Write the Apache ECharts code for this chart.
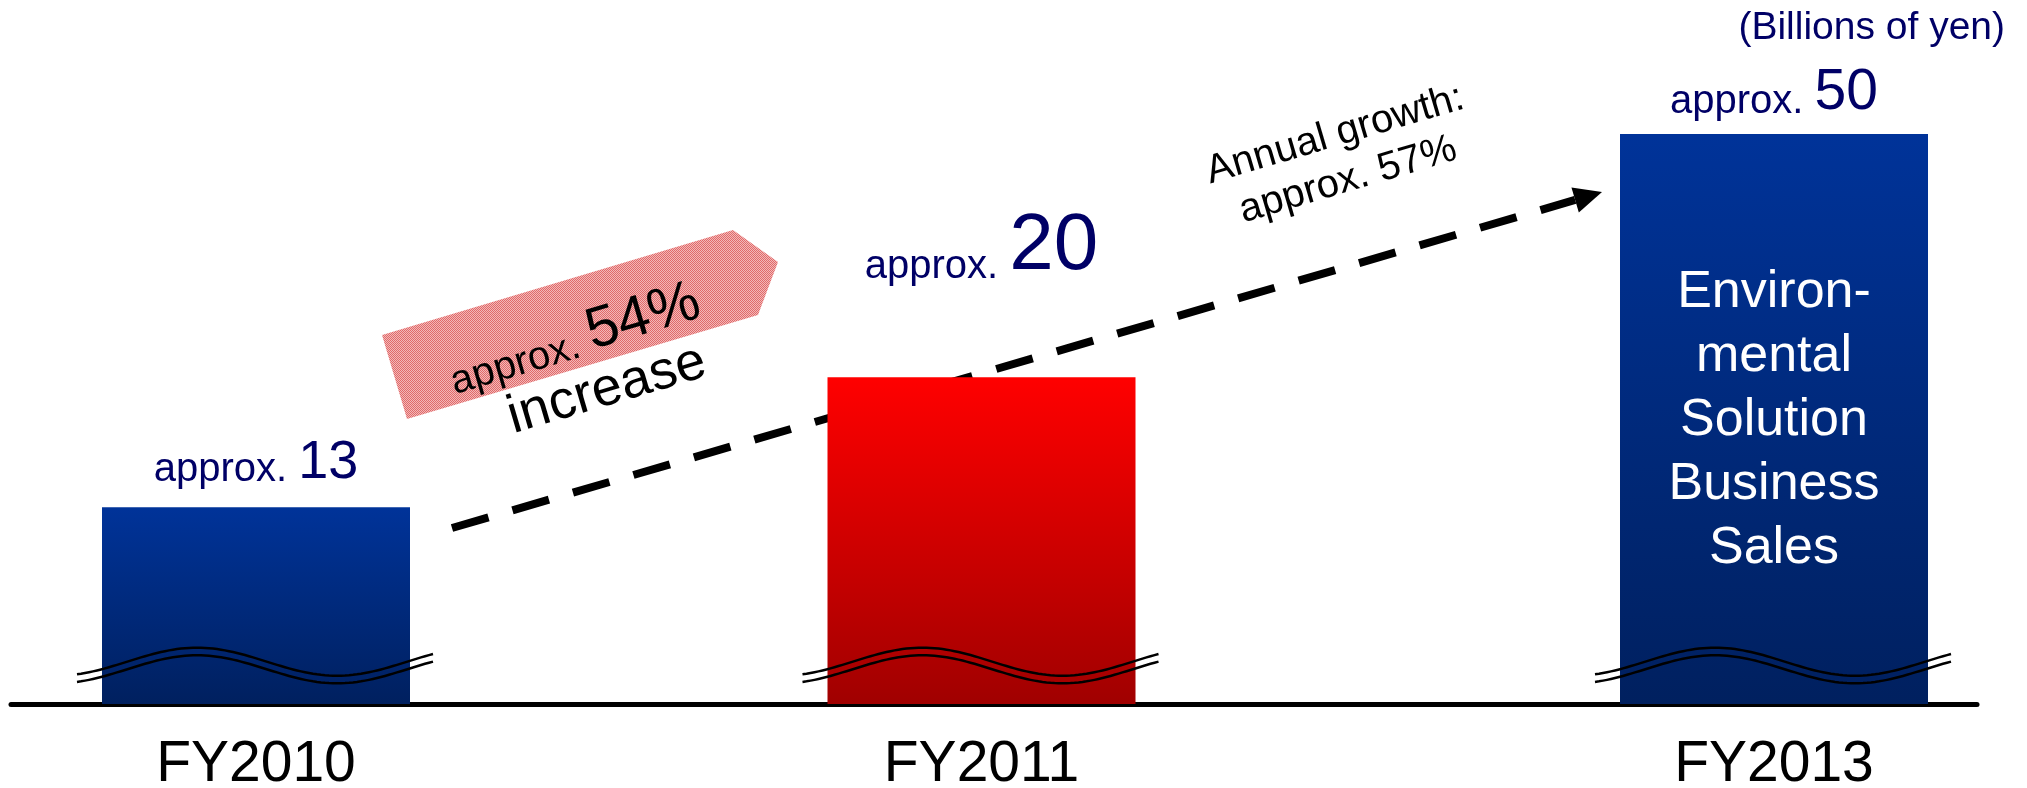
<!DOCTYPE html>
<html><head><meta charset="utf-8">
<script src="https://cdn.jsdelivr.net/npm/echarts@6/dist/echarts.min.js"></script>
<style>html,body{margin:0;padding:0;background:#fff;overflow:hidden}#c{width:2027px;height:788px}</style>
</head><body><div id="c"></div>
<script>
// ---- data ----
const categories = ['FY2010', 'FY2011', 'FY2013'];
const sales = [13, 20, 50];
const valuePrefix = 'approx.';
const unitLabel = '(Billions of yen)';
const barNote = 'Environ-\nmental\nSolution\nBusiness\nSales';
const increaseNote = ['approx.', '54%', 'increase'];
const growthNote = ['Annual growth:', 'approx. 57%'];
// axis breaks (broken value axis)
const axisBreaks = [{start: 0, end: 6, gap: '11.75%'}, {start: 25, end: 42, gap: '0.35%'}];

// ---- style / layout ----
const FONT = '"Liberation Sans", Arial, Helvetica, sans-serif';
const NAVY = '#000066';
const gridBoxes = [{left: 11, width: 490}, {left: 392, width: 1179}, {left: 1571, width: 406}];
const numSizes = [54, 80, 57];
const labelGaps = [17, 90, 12];
const barColors = [
  ['#003399', '#00205f'],
  ['#ff0000', '#a00000'],
  ['#003399', '#00205f']
];

const chart = echarts.init(document.getElementById('c'), null, {renderer: 'canvas'});

const option = {
  animation: false,
  backgroundColor: '#ffffff',
  grid: gridBoxes.map(g => ({left: g.left, width: g.width, top: 134, bottom: 84, outerBoundsMode: 'none', containLabel: false})),
  xAxis: categories.map((c, i) => ({
    type: 'category', gridIndex: i, data: [c],
    axisLine: {show: true, lineStyle: {color: '#000', width: 5}},
    axisTick: {show: false},
    splitLine: {show: false},
    axisLabel: {fontSize: 57, color: '#000', fontFamily: FONT, margin: 33}
  })),
  yAxis: categories.map((c, i) => ({
    type: 'value', gridIndex: i, min: 0, max: 50,
    breaks: axisBreaks.map(b => Object.assign({}, b)),
    breakArea: {show: false},
    axisLine: {show: false}, axisTick: {show: false},
    axisLabel: {show: false}, splitLine: {show: false}
  })),
  series: categories.map((c, i) => {
    const big = numSizes[i];
    const d = 0.1535 * (big - 40);
    return {
      type: 'bar', xAxisIndex: i, yAxisIndex: i,
      data: [sales[i]], barWidth: 308,
      itemStyle: {color: new echarts.graphic.LinearGradient(0, 0, 0, 1, [
        {offset: 0, color: barColors[i][0]}, {offset: 1, color: barColors[i][1]}])},
      label: {
        show: true, position: 'top', distance: labelGaps[i],
        formatter: '{a|' + valuePrefix + ' }{n|{c}}',
        rich: {
          a: {fontSize: 40, color: NAVY, fontFamily: FONT, verticalAlign: 'bottom', lineHeight: 40 + 2 * d},
          n: {fontSize: big, color: NAVY, fontFamily: FONT, verticalAlign: 'bottom', lineHeight: big}
        }
      }
    };
  })
};
chart.setOption(option);

// ---- annotations ----
const ANG = Math.atan(0.2957);
const graphics = [];

// break marks (double wavy lines) on each bar, at the lower axis break
categories.forEach((c, i) => {
  const cx = chart.convertToPixel({xAxisIndex: i}, c);
  const cy = chart.convertToPixel({yAxisIndex: i}, (axisBreaks[0].start + axisBreaks[0].end) / 2);
  [-3.8, 3.8].forEach(off => {
    const pts = [];
    for (let x = -179; x <= 179; x += 4) {
      pts.push([cx + x, cy - 5 + off - 14 * Math.cos(2 * Math.PI * (x + 59) / 280)]);
    }
    graphics.push({type: 'polyline', shape: {points: pts}, style: {stroke: '#000', lineWidth: 2.5, fill: null}, z: 100, silent: true});
  });
});

// hatched fill for the pink arrow
const pc = document.createElement('canvas');
pc.width = 2; pc.height = 2;
const pctx = pc.getContext('2d');
pctx.fillStyle = '#e06a6a'; pctx.fillRect(0, 0, 2, 2);
pctx.fillStyle = '#f3b8b8'; pctx.fillRect(1, 0, 1, 1); pctx.fillRect(0, 1, 1, 1);

graphics.push({type: 'polygon', shape: {points: [[382, 335], [733, 230], [778, 262], [758, 315], [407, 419]]},
  style: {fill: {image: pc, repeat: 'repeat'}}, z: 50, silent: true});
graphics.push({type: 'text', x: 574, y: 338, rotation: ANG, z: 60, silent: true,
  style: {text: '{a|' + increaseNote[0] + ' }{n|' + increaseNote[1] + '}', align: 'center', verticalAlign: 'middle',
    rich: {a: {fontSize: 40, fontFamily: FONT, fill: '#000', color: '#000', verticalAlign: 'bottom', lineHeight: 40 + 2 * 0.1535 * 18},
           n: {fontSize: 58, fontFamily: FONT, fill: '#000', color: '#000', verticalAlign: 'bottom', lineHeight: 58}}}});
graphics.push({type: 'text', x: 607, y: 390, rotation: ANG, z: 60, silent: true,
  style: {text: increaseNote[2], fontSize: 54, fontFamily: FONT, fill: '#000', align: 'center', verticalAlign: 'middle'}});

// dashed growth arrow
const tip = [1602, 192];
const dir = [0.959, -0.2835];
const nrm = [0.2835, 0.959];
const base = [tip[0] - 28 * dir[0], tip[1] - 28 * dir[1]];
graphics.push({type: 'line', shape: {x1: 452, y1: 528, x2: base[0], y2: base[1]},
  style: {stroke: '#000', lineWidth: 8, lineDash: [38, 25]}, z: 1, silent: true});
graphics.push({type: 'polygon', shape: {points: [tip, [base[0] + 13 * nrm[0], base[1] + 13 * nrm[1]], [base[0] - 13 * nrm[0], base[1] - 13 * nrm[1]]]},
  style: {fill: '#000'}, z: 1, silent: true});
graphics.push({type: 'text', x: 1335, y: 135, rotation: ANG, z: 60, silent: true,
  style: {text: growthNote[0], fontSize: 40, fontFamily: FONT, fill: '#000', align: 'center', verticalAlign: 'middle'}});
graphics.push({type: 'text', x: 1348, y: 180, rotation: ANG, z: 60, silent: true,
  style: {text: growthNote[1], fontSize: 40, fontFamily: FONT, fill: '#000', align: 'center', verticalAlign: 'middle'}});

// text inside the FY2013 bar
graphics.push({type: 'text', x: chart.convertToPixel({xAxisIndex: 2}, categories[2]), y: 421, z: 60, silent: true,
  style: {text: barNote, fontSize: 52, lineHeight: 64, fontFamily: FONT, fill: '#fff', align: 'center', verticalAlign: 'middle'}});

// unit
graphics.push({type: 'text', x: 2005, y: 28, z: 60, silent: true,
  style: {text: unitLabel, fontSize: 39, fontFamily: FONT, fill: NAVY, align: 'right', verticalAlign: 'middle'}});

chart.setOption({graphic: graphics});
</script></body></html>
